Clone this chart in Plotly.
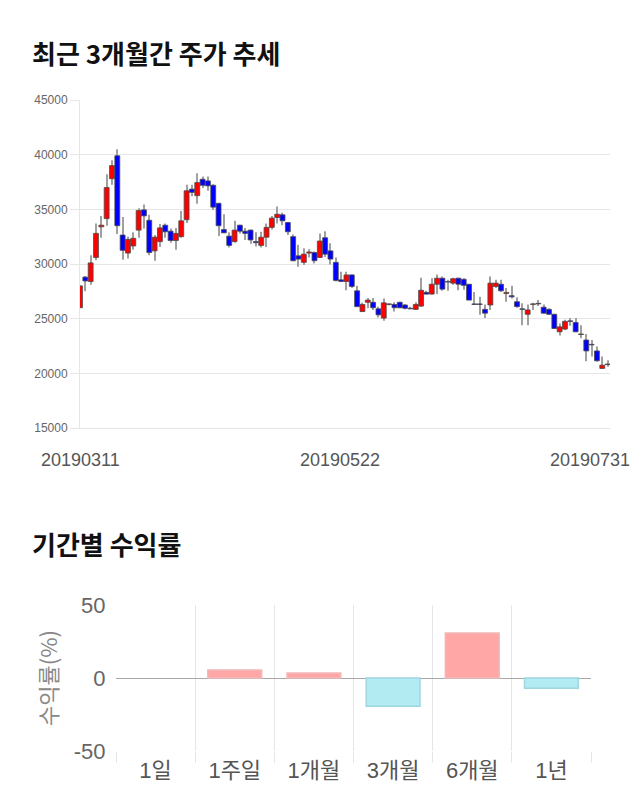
import plotly.graph_objects as go

DAYS = """0311 0312 0313 0314 0315 0318 0319 0320 0321 0322 0325 0326 0327 0328 0329
0401 0402 0403 0404 0405 0408 0409 0410 0411 0412 0415 0416 0417 0418 0419 0422 0423 0424 0425 0426 0429 0430
0502 0503 0507 0508 0509 0510 0513 0514 0515 0516 0517 0520 0521 0522 0523 0524 0527 0528 0529 0530 0531
0603 0604 0605 0607 0610 0611 0612 0613 0614 0617 0618 0619 0620 0621 0624 0625 0626 0627 0628
0701 0702 0703 0704 0705 0708 0709 0710 0711 0712 0715 0716 0717 0718 0719 0722 0723 0724 0725 0726 0729 0730 0731""".split()
DATES = ["2019" + d for d in DAYS]

OPEN = [26000, 28800, 28400, 30600, 33400, 34150, 37800, 39900, 32650, 31000,
        31650, 33100, 34950, 34000, 31200, 32050, 33550, 33000, 32150, 32500,
        34050, 36850, 36250, 37750, 37600, 37200, 35550, 33150, 32550, 32050,
        33550, 33000, 33100, 32050, 31700, 32450, 33350, 34250, 34500, 33800,
        32500, 30750, 30150, 31000, 31050, 30600, 32400, 31200, 30150, 28550,
        28400, 29000, 27550, 25650, 26500, 26500, 25900, 25050, 26300, 26300,
        26500, 26250, 25950, 25850, 26150, 27400, 27250, 28150, 28700, 28400,
        28250, 28700, 28600, 28150, 26350, 26350, 25850, 26250, 27950, 28150,
        27300, 27100, 26550, 25900, 25400, 26300, 26400, 26050, 25850, 25400,
        23800, 24050, 24800, 24650, 23600, 23050, 22650, 22050, 20450, 20850]
HIGH = [28000, 28900, 30800, 33700, 34400, 38200, 39500, 40500, 34300, 32500,
        32900, 35100, 35450, 34500, 32650, 33650, 33700, 33250, 33300, 34850,
        37250, 37250, 38300, 38000, 38000, 37300, 35600, 34550, 32900, 33950,
        33600, 33300, 33150, 32900, 32950, 33700, 34400, 35250, 34700, 33850,
        32700, 31750, 31450, 31350, 31150, 32800, 33000, 31900, 30600, 29300,
        29300, 29050, 28000, 26450, 26900, 26900, 26100, 26850, 26400, 26500,
        26550, 26350, 26100, 26500, 28750, 27550, 28700, 29050, 28850, 28550,
        28750, 28750, 28700, 28150, 27450, 27000, 26300, 28850, 28550, 28550,
        27800, 28000, 26950, 26400, 26300, 26450, 26700, 26300, 25950, 25450,
        24550, 24900, 25050, 25050, 24400, 23600, 23050, 22450, 21550, 21200]
LOW = [26000, 27500, 28100, 30350, 32400, 33500, 37250, 32750, 30400, 30500,
       31300, 32400, 33250, 30800, 30300, 31550, 32400, 31950, 31300, 32400,
       33750, 36200, 35500, 36950, 36700, 34950, 32550, 32850, 31500, 31950,
       32800, 32200, 31850, 31600, 31500, 31550, 33150, 33700, 33550, 32650,
       30250, 29750, 29900, 30600, 30050, 30550, 30650, 29950, 28400, 28350,
       27600, 27800, 26100, 25600, 25950, 25800, 25100, 24800, 26200, 25650,
       25950, 25850, 25850, 25800, 26100, 27200, 27200, 27250, 27550, 27550,
       28100, 27600, 27650, 26700, 26250, 25350, 25050, 25800, 27800, 27450,
       26550, 26850, 26000, 24400, 24400, 25800, 26150, 25450, 25350, 24050,
       23450, 23950, 24350, 23750, 23200, 21100, 21550, 21050, 20400, 20600]
CLOSE = [28000, 28450, 30100, 32800, 33550, 37000, 39000, 33500, 31250, 32250,
         32350, 34900, 34400, 31050, 32450, 33300, 32950, 32150, 32800, 33950,
         36700, 36550, 37450, 37200, 37150, 35200, 33500, 32850, 31700, 33100,
         33000, 32800, 32200, 31950, 32450, 33350, 34200, 34550, 33950, 32950,
         30300, 30450, 30900, 31100, 30300, 32100, 30900, 30450, 28500, 28400,
         29000, 27950, 26100, 26300, 26700, 26000, 25350, 26450, 26350, 26000,
         26000, 25950, 25900, 26300, 27600, 27250, 28150, 28700, 27700, 28350,
         28650, 28150, 28050, 26700, 26300, 26300, 25500, 28250, 28250, 27550,
         27400, 27000, 26100, 25850, 25800, 26350, 26350, 25500, 25400, 24100,
         24250, 24750, 24750, 23800, 23550, 22050, 22600, 21150, 20750, 20800]

PERIODS = ["1일", "1주일", "1개월", "3개월", "6개월", "1년"]
RETURNS = [0.0, 5.4, 3.4, -19.4, 30.8, -7.0]

Y1_TICKS = [15000, 20000, 25000, 30000, 35000, 40000, 45000]
Y2_TICKS = [-50, 0, 50]
Y2_TEXT = ["-50", "0", "50"]
X_LABEL_IDX = [0, 50, len(DATES) - 1]

BASE_FONT = "Liberation Sans, Noto Sans CJK KR, sans-serif"
KR_FONT = "Noto Sans CJK KR, sans-serif"

fig = go.Figure()

# wicks (thin bars from low to high)
fig.add_trace(go.Bar(
    x=DATES, y=[h - l for h, l in zip(HIGH, LOW)], base=LOW, width=0.2,
    marker=dict(color="#a0a0a0", line=dict(width=0)),
    showlegend=False, hoverinfo="skip", xaxis="x", yaxis="y"))

# bodies
body_base = [min(o, c) for o, c in zip(OPEN, CLOSE)]
body_len = [abs(c - o) for o, c in zip(OPEN, CLOSE)]
body_col = ["#FF0000" if c > o else "#0000FF" for o, c in zip(OPEN, CLOSE)]
fig.add_trace(go.Bar(
    x=DATES, y=body_len, base=body_base, width=0.92,
    marker=dict(color=body_col, line=dict(color="#4a4a4a", width=0.8)),
    showlegend=False, hoverinfo="skip", xaxis="x", yaxis="y"))

# returns
ret_col = ["#FFA6A6" if v >= 0 else "#B2EBF2" for v in RETURNS]
ret_line = ["#F2B8B8" if v >= 0 else "#9ED6DE" for v in RETURNS]
ret_lw = [0 if v == 0 else 1.5 for v in RETURNS]
fig.add_trace(go.Bar(
    x=PERIODS, y=RETURNS, width=0.68,
    marker=dict(color=ret_col, line=dict(color=ret_line, width=ret_lw)),
    showlegend=False, hoverinfo="skip", xaxis="x2", yaxis="y2"))

grid = "#e6e6e6"
fig.update_layout(
    width=640, height=810,
    margin=dict(l=0, r=0, t=0, b=0),
    paper_bgcolor="white", plot_bgcolor="white",
    font=dict(family=BASE_FONT, color="#666"),
    barmode="overlay",
    xaxis=dict(domain=[80/640, 610/640], type="category", range=[0, 99.45],
               showgrid=False, showticklabels=False, showline=True, linecolor=grid,
               anchor="y", fixedrange=True),
    yaxis=dict(domain=[1-428/810, 1-100/810], range=[15000, 45000],
               tickvals=Y1_TICKS, ticktext=[str(v) for v in Y1_TICKS],
               gridcolor=grid, showline=True, linecolor=grid, linewidth=1,
               ticks="outside", ticklen=9, tickcolor=grid,
               tickfont=dict(size=12, color="#666"), anchor="x", automargin=False),
    xaxis2=dict(domain=[116/640, 591/640], type="category", range=[-0.5, 5.5],
                tickson="boundaries", showgrid=True, gridcolor=grid,
                ticks="outside", ticklen=11, tickcolor=grid, ticklabelstandoff=4,
                tickfont=dict(size=22, color="#555", family=BASE_FONT),
                anchor="y2", automargin=False),
    yaxis2=dict(domain=[1-751/810, 1-605/810], range=[-50, 50],
                tickvals=Y2_TICKS, ticktext=Y2_TEXT,
                gridcolor=grid, zeroline=True, zerolinecolor="#a8a8a8", zerolinewidth=1,
                ticks="outside", ticklen=5, tickcolor="rgba(0,0,0,0)",
                tickfont=dict(size=22, color="#666"),
                title=dict(text="수익률(%)", font=dict(size=22, color="#888", family=KR_FONT), standoff=10),
                anchor="x2", automargin=False),
)

annotations = [
    dict(text="최근 3개월간 주가 추세", xref="paper", yref="paper", x=30/640, y=1-52/810,
         xanchor="left", yanchor="middle", showarrow=False,
         font=dict(size=26, color="#111", family=KR_FONT, weight="bold")),
    dict(text="기간별 수익률", xref="paper", yref="paper", x=30/640, y=1-543/810,
         xanchor="left", yanchor="middle", showarrow=False,
         font=dict(size=26, color="#111", family=KR_FONT, weight="bold")),
]
for idx, shift in zip(X_LABEL_IDX, [0, -6, -18]):
    annotations.append(dict(text=DATES[idx], xref="x", yref="paper", x=idx, y=1-460/810,
                            xanchor="center", yanchor="middle", xshift=shift, showarrow=False,
                            font=dict(size=18, color="#555", family=BASE_FONT)))
fig.update_layout(annotations=annotations)

fig.write_html("out.html")
